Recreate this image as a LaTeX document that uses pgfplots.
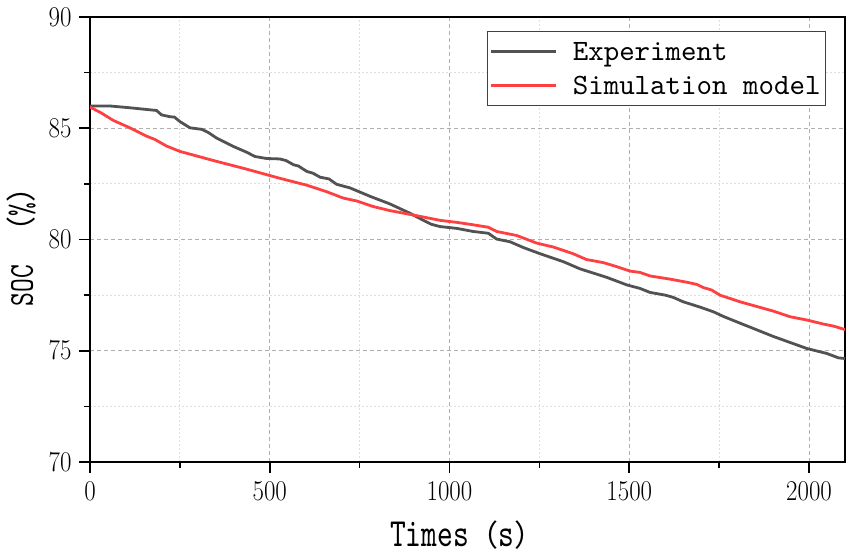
\documentclass[border=0pt]{standalone}
\usepackage{pgfplots}
\pgfplotsset{compat=1.18}
\usepackage{fontspec}
\newfontfamily\legfont{lmmono10-regular.otf}
\newfontfamily\xlabfont[FakeStretch=0.75]{lmmono10-regular.otf}
\newfontfamily\cjk{Noto Sans CJK SC}
\definecolor{expgray}{RGB}{82,82,82}
\definecolor{simred}{RGB}{255,64,64}
\definecolor{majgrid}{RGB}{175,175,175}
\definecolor{mingrid}{RGB}{222,222,222}
\begin{document}
\begin{tikzpicture}
\begin{axis}[
  scale only axis,
  width=755pt, height=445pt,
  at={(0pt,0pt)}, anchor=south west,
  xmin=0, xmax=2100, ymin=70, ymax=90,
  xtick={0,500,1000,1500,2000},
  ytick={70,75,80,85,90},
  /pgf/number format/1000 sep={},
  minor x tick num=1, minor y tick num=1,
  tick align=outside,
  xtick pos=bottom, ytick pos=left,
  major tick length=11pt, minor tick length=6pt,
  every tick/.style={black, line width=1.6pt},
  axis line style={line width=1.6pt},
  grid=both,
  major grid style={majgrid, dash pattern=on 4pt off 3pt, line width=0.8pt},
  minor grid style={mingrid, dash pattern=on 2pt off 2pt, line width=0.8pt},
  tick label style={font=\fontsize{24}{28}\selectfont, yscale=1.15},
  xticklabel style={yshift=-4pt},
  yticklabel style={xshift=-4pt},
  xlabel={\xlabfont\fontsize{40}{44}\selectfont Times{\cjk\fontsize{30}{34}\selectfont （}s{\cjk\fontsize{30}{34}\selectfont ）}},
  ylabel={\xlabfont\fontsize{35}{40}\selectfont SOC\hspace{18pt}{\cjk\fontsize{30}{34}\selectfont （}\%{\cjk\fontsize{30}{34}\selectfont ）}},
  xlabel style={at={([yshift=-85pt]axis description cs:0.5,0)}, anchor=base},
  ylabel style={at={([xshift=-57pt]axis description cs:0,0.5)}, anchor=base, rotate=0},
  legend style={at={([xshift=-19pt,yshift=-14pt]axis description cs:1,1)}, anchor=north east,
    draw=black!75, line width=0.8pt, font=\legfont\fontsize{29.5}{34}\selectfont,
    inner xsep=3pt, inner ysep=3.5pt, row sep=1pt,
    nodes={text height=24pt, text depth=5pt, inner sep=2pt}},
  legend cell align=left,
  legend image code/.code={\draw[#1, line width=2.5pt] (0pt,0pt) -- (65pt,0pt); \path (78pt,0pt);},
]
\addplot[expgray, line width=2.8pt] coordinates {
(0,86.0)(56,86.0)(111,85.92)(172,85.82)(185,85.8)(199,85.6)(222,85.52)(235,85.5)(250,85.3)(278,85.02)(311,84.95)(330,84.8)(352,84.56)(399,84.18)(436,83.92)(459,83.73)(491,83.64)(528,83.62)(545,83.55)(566,83.36)(580,83.3)(603,83.06)(620,82.98)(640,82.8)(665,82.72)(686,82.48)(723,82.32)(779,81.94)(834,81.6)(890,81.18)(918,80.94)(950,80.68)(974,80.58)(1020,80.5)(1066,80.36)(1108,80.28)(1131,80.02)(1168,79.9)(1205,79.64)(1252,79.36)(1317,79.0)(1363,78.68)(1437,78.3)(1493,77.96)(1530,77.8)(1558,77.62)(1600,77.5)(1622,77.4)(1650,77.2)(1697,76.96)(1734,76.75)(1762,76.54)(1808,76.24)(1901,75.64)(1994,75.1)(2049,74.88)(2082,74.68)(2100,74.65)
};
\addlegendentry{Experiment}
\addplot[simred, line width=2.8pt] coordinates {
(0,85.95)(30,85.7)(65,85.35)(111,85.02)(158,84.64)(180,84.5)(213,84.2)(250,83.96)(343,83.55)(436,83.16)(528,82.75)(603,82.44)(658,82.15)(690,81.95)(705,81.86)(742,81.73)(788,81.48)(834,81.3)(899,81.1)(974,80.86)(1020,80.77)(1066,80.66)(1108,80.55)(1131,80.36)(1187,80.18)(1242,79.84)(1289,79.66)(1344,79.36)(1381,79.1)(1428,78.96)(1465,78.78)(1502,78.58)(1530,78.52)(1558,78.36)(1613,78.22)(1660,78.08)(1688,77.98)(1706,77.84)(1729,77.73)(1752,77.5)(1808,77.2)(1901,76.78)(1947,76.53)(1994,76.38)(2040,76.2)(2070,76.1)(2100,75.95)
};
\addlegendentry{Simulation model}
\end{axis}
\pgfresetboundingbox
\path[use as bounding box] (-90pt,-94pt) rectangle (765pt,462pt);
\end{tikzpicture}
\end{document}
